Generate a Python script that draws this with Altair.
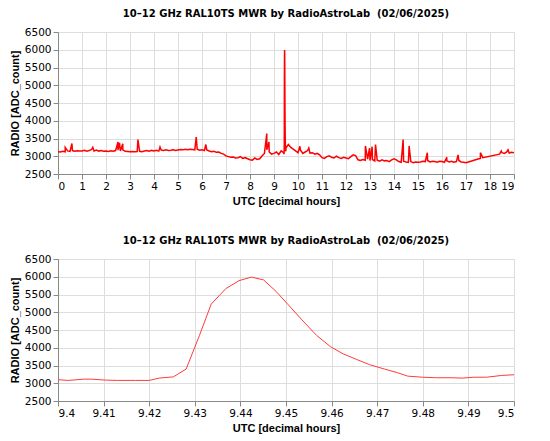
import altair as alt
import pandas as pd

# Baseline samples every 0.1 h for each hour (None = no data / gap)
h00 = [3130, 3120, 3140, 3125, 3150, 3135, 3160, 3140, 3155, 3145]
h01 = [3150, 3170, 3140, 3160, 3190, 3150, 3175, 3145, 3160, 3140]
h02 = [3150, 3135, 3155, 3140, 3160, 3170, 3150, 3180, 3140, 3135]
h03 = [3130, 3135, 3128, 3132, 3140, 3130, 3150, 3160, 3140, 3165]
h04 = [3150, 3170, 3145, 3175, 3160, 3180, 3165, 3170, 3185, 3160]
h05 = [3175, 3190, 3180, 3195, 3185, 3200, 3190, 3180, 3195, 3170]
h06 = [3180, 3160, 3175, 3150, 3130, 3140, 3110, 3120, 3080, 3060]
h07 = [3010, 2990, 2970, 2980, 2950, 2960, 2990, 2940, 2960, 2930]
h08 = [2900, 2890, 2950, 2910, 2930, 3010, 3080, 3180, 3120, 3060]
h09 = [3080, 3120, 3050, 3150, None, None, 3330, 3250, 3200, 3150]
h10 = [3100, 3180, 3080, 3120, 3160, 3090, 3100, 3060, 3080, 3040]
h11 = [2960, 2940, 2990, 3010, 2970, 2950, 3000, 2960, 2940, 2970]
h12 = [2950, 2930, 2990, 3040, 3020, 2900, 2880, 2910, 2890, 2920]
h13 = [2880, 2910, 2870, 2890, 2860, 2900, 2870, 2880, 2850, 2900]
h14 = [2930, 2900, 2850, 2830, 2860, 2840, 2830, 2850, 2820, 2840]
h15 = [2830, 2840, 2860, 2850, 2880, 2840, 2860, 2850, 2830, 2860]
h16 = [2850, 2830, 2870, 2840, 2860, 2830, 2850, 2880, 2840, 2830]
h17 = [2820, 2840, 2860, 2880, 2900, 2920, 2940, 2960, None, None]
h18 = [None, None, None, None, 3060, 3100, 3080, 3120, 3090, 3110]
h19 = [3100]

# Narrow interference spikes
spike_t = [0.30, 0.58, 1.45, 2.50, 2.56, 2.70, 3.33, 4.25, 5.76, 6.16,
           8.70, 8.79, 10.08, 10.45, 12.81, 12.98, 13.09, 13.23, 14.38,
           14.63, 15.39, 16.20, 16.67, 17.60, 18.47, 18.75]
spike_v = [3250, 3360, 3250, 3400, 3380, 3350, 3470, 3260, 3540, 3330,
           3640, 3400, 3280, 3230, 3290, 3230, 3270, 3330, 3470,
           3290, 3100, 2970, 3040, 3100, 3150, 3180]

# Flare detail 9.40 - 9.50 h
flare_t = [9.4000, 9.4023, 9.4056, 9.4074, 9.4103, 9.4130, 9.4170, 9.4200,
           9.4222, 9.4253, 9.4281, 9.4310, 9.4336, 9.4368, 9.4397, 9.4424,
           9.4451, 9.4478, 9.4505, 9.4535, 9.4567, 9.4597, 9.4625, 9.4654,
           9.4683, 9.4716, 9.4745, 9.4767, 9.4799, 9.4828, 9.4864, 9.4886,
           9.4912, 9.4940, 9.4973, 9.5000]
flare_v = [3100, 3080, 3115, 3115, 3090, 3080, 3080, 3080,
           3145, 3180, 3400, 4340, 5230, 5665, 5890, 5990,
           5910, 5590, 5210, 4785, 4350, 4035, 3830, 3675,
           3525, 3400, 3295, 3200, 3170, 3155, 3155, 3145,
           3170, 3170, 3220, 3240]

hours = [h00, h01, h02, h03, h04, h05, h06, h07, h08, h09,
         h10, h11, h12, h13, h14, h15, h16, h17, h18, h19]

rows = []
for h, vals in enumerate(hours):
    for i, v in enumerate(vals):
        if v is not None:
            rows.append((round(h + i / 10, 2), v))
rows += list(zip(spike_t, spike_v))
rows += list(zip(flare_t, flare_v))
df = pd.DataFrame(rows, columns=["t", "v"]).sort_values("t")

TITLE = "10\u201312 GHz RAL10TS MWR by RadioAstroLab\u00a0 (02/06/2025)"
FONT = "DejaVu Sans"
LBL = 10.5

def panel(domain, ticks, fmt, color, width):
    return (
        alt.Chart(df)
        .mark_line(color=color, strokeWidth=width, clip=True)
        .encode(
            x=alt.X("t:Q", scale=alt.Scale(domain=domain, nice=False, zero=False),
                    axis=alt.Axis(values=ticks, format=fmt, labelFont=FONT,
                                  labelFontSize=LBL, title="UTC [decimal hours]")),
            y=alt.Y("v:Q", scale=alt.Scale(domain=[2500, 6500], nice=False, zero=False),
                    axis=alt.Axis(values=list(range(2500, 7000, 500)), format="d",
                                  labelFont=FONT, labelFontSize=LBL,
                                  title="RADIO [ADC_count]")),
        )
        .properties(width=456, height=142,
                    title=alt.TitleParams(TITLE, fontSize=10, font=FONT,
                                          fontWeight="bold", anchor="middle",
                                          offset=8))
    )

top = panel([0, 19], list(range(0, 20)), "d", "#ff0000", 1.5)
bottom = panel([9.4, 9.5], [round(9.4 + k / 100, 2) for k in range(11)],
               ".2~f", "#ff3b3b", 1.0)

chart = (
    alt.vconcat(top, bottom, spacing=28)
    .properties(padding={"left": 0, "top": 0, "right": 5, "bottom": 0})
    .configure_view(stroke="#9a9a9a", strokeWidth=1)
    .configure_axis(
        labelColor="#404040",
        titleFont=FONT, titleFontSize=8, titleFontWeight="bold", titleColor="#202020",
        gridColor="#e4e4e4", gridWidth=1,
        domainColor="#606060", tickColor="#606060", tickSize=0,
        labelPadding=3,
    )
    .configure_axisX(titlePadding=5)
    .configure_axisY(titlePadding=0)
    .configure(background="white")
)

chart.save("out.html", embed_options={"renderer": "svg", "actions": False})
